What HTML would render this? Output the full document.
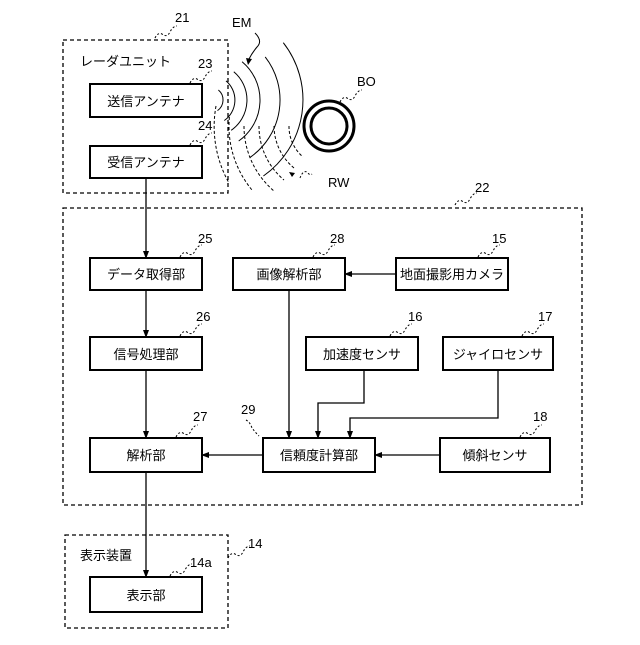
<!DOCTYPE html>
<html><head><meta charset="utf-8"><style>
body{margin:0;background:#fff}
svg text{font-family:"Liberation Sans","Noto Sans CJK JP",sans-serif;fill:#000}
</style></head><body>
<svg width="640" height="640" viewBox="0 0 640 640" xmlns="http://www.w3.org/2000/svg">
<defs><marker id="a" markerWidth="8" markerHeight="8" refX="7" refY="4" orient="auto" markerUnits="userSpaceOnUse"><path d="M0,1 L8,4 L0,7 z" fill="#000"/></marker></defs>
<g fill="none" stroke="#000" stroke-width="1.3" stroke-dasharray="4,3">
<rect x="63" y="40" width="165" height="153"/>
<rect x="63" y="208" width="519" height="297"/>
<rect x="65" y="535" width="163" height="93"/>
</g>
<g fill="#fff" stroke="#000" stroke-width="2">
<rect x="90" y="84" width="112" height="33"/>
<rect x="90" y="146" width="112" height="32"/>
<rect x="90" y="258" width="112" height="32"/>
<rect x="90" y="337" width="112" height="33"/>
<rect x="90" y="438" width="112" height="34"/>
<rect x="233" y="258" width="112" height="32"/>
<rect x="396" y="258" width="112" height="32"/>
<rect x="306" y="337" width="112" height="33"/>
<rect x="443" y="337" width="110" height="33"/>
<rect x="263" y="438" width="112" height="34"/>
<rect x="440" y="438" width="110" height="34"/>
<rect x="90" y="577" width="112" height="35"/>
</g>
<g font-size="13" text-anchor="middle">
<text x="146" y="106">送信アンテナ</text>
<text x="146" y="167">受信アンテナ</text>
<text x="146" y="279">データ取得部</text>
<text x="146" y="359">信号処理部</text>
<text x="146" y="460">解析部</text>
<text x="289" y="279">画像解析部</text>
<text x="452" y="279">地面撮影用カメラ</text>
<text x="362" y="359">加速度センサ</text>
<text x="498" y="359">ジャイロセンサ</text>
<text x="319" y="460">信頼度計算部</text>
<text x="495" y="460">傾斜センサ</text>
<text x="146" y="600">表示部</text>
</g>
<g font-size="13">
<text x="80" y="66">レーダユニット</text>
<text x="80" y="560">表示装置</text>
</g>
<g font-size="13">
<text x="175" y="22">21</text><text x="198" y="68">23</text><text x="198" y="130">24</text>
<text x="475" y="192">22</text><text x="198" y="243">25</text><text x="196" y="321">26</text>
<text x="193" y="421">27</text><text x="330" y="243">28</text><text x="492" y="243">15</text>
<text x="408" y="321">16</text><text x="538" y="321">17</text><text x="241" y="414">29</text>
<text x="533" y="421">18</text><text x="248" y="548">14</text><text x="190" y="567">14a</text>
<text x="232" y="27">EM</text><text x="357" y="86">BO</text><text x="328" y="187">RW</text>
</g>
<g fill="none" stroke="#000" stroke-width="1" stroke-dasharray="2,2">
<path d="M155,38 q3,-6 7,-4 q5,4 8,-2 q3,-6 7,-6"/>
<path d="M190,83 q3,-6 7,-4 q5,4 8,-2 q3,-6 7,-6"/>
<path d="M190,145 q3,-6 7,-4 q5,4 8,-2 q3,-6 7,-6"/>
<path d="M455,205 q3,-6 7,-4 q5,4 8,-2 q3,-6 7,-6"/>
<path d="M180,257 q3,-6 7,-4 q5,4 8,-2 q3,-6 7,-6"/>
<path d="M180,336 q3,-6 7,-4 q5,4 8,-2 q3,-6 7,-6"/>
<path d="M176,437 q3,-6 7,-4 q5,4 8,-2 q3,-6 7,-6"/>
<path d="M313,257 q3,-6 7,-4 q5,4 8,-2 q3,-6 7,-6"/>
<path d="M478,257 q3,-6 7,-4 q5,4 8,-2 q3,-6 7,-6"/>
<path d="M390,336 q3,-6 7,-4 q5,4 8,-2 q3,-6 7,-6"/>
<path d="M522,336 q3,-6 7,-4 q5,4 8,-2 q3,-6 7,-6"/>
<path d="M520,437 q3,-6 7,-4 q5,4 8,-2 q3,-6 7,-6"/>
<path d="M246,420 q4,2 6,8 q3,4 7,8"/>
<path d="M228,558 q3,-6 7,-4 q5,4 8,-2 q3,-6 7,-6"/>
<path d="M170,576 q3,-6 7,-4 q5,4 8,-2 q3,-6 7,-6"/>
<path d="M340,102 q3,-6 7,-4 q5,4 8,-2 q3,-6 7,-6"/>
<path d="M300,178 q3,-8 7,-6 q3,4 5,2"/>
</g>
<path d="M255,33 q8,8 2,14 q-5,6 -8,12" fill="none" stroke="#000" stroke-width="1"/>
<path d="M246,58 l2,7 l4,-6 z" fill="#000"/>
<path d="M289,172 l6,1 l-3,4 z" fill="#000"/>
<circle cx="329" cy="126" r="25" fill="none" stroke="#000" stroke-width="3"/>
<circle cx="329" cy="126" r="18" fill="none" stroke="#000" stroke-width="3"/>
<g fill="none" stroke="#000" stroke-width="1">
<path d="M218.4,90 A13,13 0 0 1 217.5,110.6"/>
<path d="M226,80.9 A25,25 0 0 1 224.3,120.5"/>
<path d="M233.8,71.7 A37,37 0 0 1 231.2,130.3"/>
<path d="M242.1,61.7 A50,50 0 0 1 238.7,141"/>
<path d="M265.2,56.9 A70,70 0 0 1 250.2,157.3"/>
<path d="M283.3,42.7 A93,93 0 0 1 263.4,176"/>
</g>
<g fill="none" stroke="#000" stroke-width="1" stroke-dasharray="3,2">
<path d="M289,126 A40,40 0 0 0 303,157"/>
<path d="M274,126 A55,55 0 0 0 294,168"/>
<path d="M259,126 A70,70 0 0 0 284,180"/>
<path d="M244,126 A85,85 0 0 0 274,191"/>
<path d="M229.4,117 A100,100 0 0 0 252,190"/>
<path d="M216,106 A115,115 0 0 0 229,183"/>
</g>
<g fill="none" stroke="#000" stroke-width="1.3" marker-end="url(#a)">
<path d="M146,178 V258"/>
<path d="M146,290 V337"/>
<path d="M146,370 V438"/>
<path d="M146,472 V577"/>
<path d="M396,274 H345"/>
<path d="M289,290 V438"/>
<path d="M364,370 V403 H318 V438"/>
<path d="M498,370 V418 H350 V438"/>
<path d="M440,455 H375"/>
<path d="M263,455 H202"/>
</g>
</svg>
</body></html>
